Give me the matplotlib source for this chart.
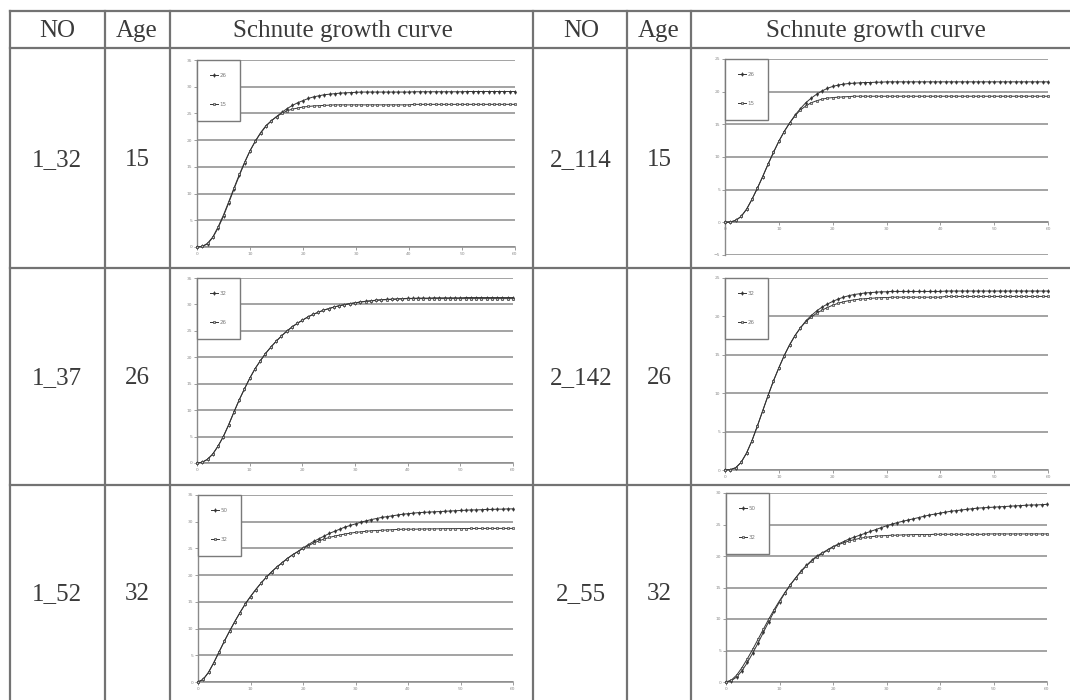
import matplotlib
matplotlib.use("Agg")
import matplotlib.pyplot as plt
from matplotlib.lines import Line2D

# ---------------- data ----------------
row_ids_left = ["1_32", "1_37", "1_52"]
row_ids_right = ["2_114", "2_142", "2_55"]
row_ages = ["15", "26", "32"]
header = ["NO", "Age", "Schnute growth curve"]

legend_labels = [("26", "15"), ("26", "15"),
                 ("32", "26"), ("32", "26"),
                 ("50", "32"), ("50", "32")]

x_ticks = [0, 10, 20, 30, 40, 50, 60]

# chart 1 : 1_32
A1 = [0, 0.1, 0.6, 1.8, 3.6, 5.8, 8.3, 10.9, 13.4, 15.8, 18.0, 19.8, 21.4, 22.7, 23.6, 24.4,
      25.2, 25.9, 26.5, 27.0, 27.4, 27.8, 28.1, 28.3, 28.5, 28.6, 28.7, 28.8, 28.85, 28.9, 28.95,
      29.0, 29.0, 29.0, 29.0, 29.0, 29.0, 29.0, 29.0, 29.0, 29.0,
      29.05, 29.05, 29.05, 29.05, 29.05, 29.05, 29.05, 29.05, 29.05, 29.05,
      29.1, 29.1, 29.1, 29.1, 29.1, 29.1, 29.1, 29.1, 29.1, 29.1]
B1 = [0, 0.1, 0.7, 1.9, 3.8, 6.0, 8.5, 11.1, 13.6, 15.9, 18.0, 19.8, 21.3, 22.6, 23.6, 24.4,
      25.0, 25.5, 25.8, 26.0, 26.2, 26.3, 26.4, 26.45, 26.5, 26.55,
      26.6, 26.6, 26.6, 26.6, 26.6, 26.6, 26.6, 26.6, 26.6, 26.6, 26.6, 26.6, 26.6, 26.6, 26.6,
      26.7, 26.7, 26.7, 26.7, 26.7, 26.7, 26.7, 26.7, 26.7, 26.7,
      26.7, 26.7, 26.7, 26.7, 26.7, 26.7, 26.7, 26.7, 26.7, 26.7]
# chart 2 : 2_114
A2 = [0, 0.05, 0.3, 0.9, 2.0, 3.5, 5.2, 7.0, 8.9, 10.7, 12.4, 13.9, 15.2, 16.4, 17.4, 18.3,
      19.0, 19.6, 20.1, 20.5, 20.8, 21.0, 21.15, 21.25, 21.3, 21.35, 21.4, 21.4, 21.45, 21.45,
      21.5, 21.5, 21.5, 21.5, 21.5, 21.5, 21.5, 21.5, 21.5, 21.5, 21.5, 21.5, 21.5, 21.5, 21.5,
      21.5, 21.5, 21.5, 21.5, 21.5, 21.5, 21.5, 21.5, 21.5, 21.5, 21.5, 21.5, 21.5, 21.5, 21.5, 21.5]
B2 = [0, 0.05, 0.3, 0.9, 2.0, 3.5, 5.2, 7.0, 8.9, 10.7, 12.4, 13.9, 15.2, 16.3, 17.2, 17.8,
      18.3, 18.6, 18.85, 19.0, 19.1, 19.15, 19.2, 19.25,
      19.3, 19.3, 19.3, 19.3, 19.3, 19.3, 19.3, 19.3, 19.3, 19.3, 19.3, 19.3, 19.3, 19.3, 19.3,
      19.3, 19.3, 19.3, 19.3, 19.3, 19.3, 19.3, 19.3, 19.3, 19.3, 19.3, 19.3, 19.3, 19.3, 19.3,
      19.3, 19.3, 19.3, 19.3, 19.3, 19.3, 19.3]
# chart 3 : 1_37
A3 = [0, 0.15, 0.7, 1.7, 3.2, 5.0, 7.2, 9.6, 11.9, 14.0, 16.0, 17.8, 19.3, 20.7, 21.9, 23.0,
      24.0, 24.9, 25.7, 26.4, 27.0, 27.6, 28.1, 28.5, 28.9, 29.2, 29.5, 29.75, 29.95, 30.15,
      30.3, 30.45, 30.6, 30.7, 30.8, 30.9, 30.95, 31.0, 31.05, 31.1, 31.15, 31.15, 31.2, 31.2,
      31.2, 31.25, 31.25, 31.25, 31.25, 31.25, 31.25,
      31.3, 31.3, 31.3, 31.3, 31.3, 31.3, 31.3, 31.3, 31.3, 31.3]
B3 = [0, 0.15, 0.7, 1.7, 3.2, 5.0, 7.2, 9.6, 11.9, 14.0, 16.0, 17.8, 19.3, 20.7, 21.9, 23.0,
      24.0, 24.9, 25.7, 26.4, 27.0, 27.6, 28.1, 28.5, 28.9, 29.2, 29.5, 29.75, 29.95, 30.15,
      30.3, 30.45, 30.55, 30.65, 30.75, 30.85, 30.9, 30.95, 31.0, 31.05, 31.1,
      31.1, 31.1, 31.1, 31.1, 31.1, 31.1, 31.1, 31.1, 31.1, 31.1,
      31.1, 31.1, 31.1, 31.1, 31.1, 31.1, 31.1, 31.1, 31.1, 31.1]
# chart 4 : 2_142
A4 = [0, 0.05, 0.3, 1.0, 2.2, 3.8, 5.7, 7.7, 9.7, 11.6, 13.3, 14.9, 16.3, 17.5, 18.5, 19.4,
      20.1, 20.7, 21.2, 21.6, 21.95, 22.25, 22.5, 22.7, 22.85, 22.95, 23.05, 23.1, 23.15, 23.2, 23.2,
      23.25, 23.25, 23.25, 23.25, 23.25, 23.25, 23.25, 23.25, 23.25, 23.25,
      23.3, 23.3, 23.3, 23.3, 23.3, 23.3, 23.3, 23.3, 23.3, 23.3,
      23.3, 23.3, 23.3, 23.3, 23.3, 23.3, 23.3, 23.3, 23.3, 23.3]
B4 = [0, 0.05, 0.3, 1.0, 2.2, 3.8, 5.7, 7.7, 9.7, 11.6, 13.3, 14.9, 16.3, 17.5, 18.5, 19.3,
      19.9, 20.4, 20.8, 21.15, 21.45, 21.7, 21.9, 22.05, 22.15, 22.25, 22.3, 22.35, 22.4, 22.45, 22.45,
      22.5, 22.5, 22.5, 22.5, 22.5, 22.5, 22.5, 22.5, 22.5, 22.5,
      22.6, 22.6, 22.6, 22.6, 22.6, 22.6, 22.6, 22.6, 22.6, 22.6,
      22.6, 22.6, 22.6, 22.6, 22.6, 22.6, 22.6, 22.6, 22.6, 22.6]
# chart 5 : 1_52
A5 = [0, 0.5, 1.8, 3.6, 5.6, 7.6, 9.5, 11.3, 13.0, 14.6, 16.0, 17.3, 18.5, 19.6, 20.6, 21.5,
      22.3, 23.1, 23.8, 24.4, 25.1, 25.7, 26.3, 26.8, 27.3, 27.8, 28.2, 28.6, 29.0, 29.3, 29.6,
      29.9, 30.15, 30.4, 30.6, 30.8, 30.95, 31.1, 31.25, 31.4, 31.5,
      31.6, 31.7, 31.75, 31.8, 31.85, 31.9, 31.95, 32.0, 32.05, 32.1,
      32.15, 32.2, 32.2, 32.25, 32.3, 32.3, 32.35, 32.35, 32.4, 32.4]
B5 = [0, 0.5, 1.8, 3.6, 5.6, 7.6, 9.5, 11.3, 13.0, 14.6, 16.0, 17.3, 18.5, 19.6, 20.6, 21.5,
      22.3, 23.1, 23.8, 24.4, 25.0, 25.5, 26.0, 26.4, 26.75, 27.05, 27.3, 27.5, 27.7, 27.85, 28.0,
      28.1, 28.2, 28.3, 28.35, 28.4, 28.45, 28.5, 28.55, 28.6, 28.6,
      28.6, 28.62, 28.64, 28.65, 28.66, 28.68, 28.7, 28.7, 28.7, 28.72,
      28.72, 28.73, 28.74, 28.74, 28.75, 28.75, 28.75, 28.75, 28.75, 28.75]
# chart 6 : 2_55
A6 = [0, 0.2, 0.8, 1.8, 3.1, 4.6, 6.2, 7.9, 9.6, 11.2, 12.7, 14.1, 15.4, 16.5, 17.6, 18.5,
      19.3, 20.0, 20.5, 21.0, 21.5, 21.9, 22.3, 22.7, 23.0, 23.3, 23.6, 23.9, 24.2,
      24.5, 24.8, 25.05, 25.3, 25.5, 25.7, 25.9, 26.1, 26.3, 26.5,
      26.65, 26.8, 26.95, 27.1, 27.2, 27.3, 27.4, 27.5, 27.6, 27.65,
      27.7, 27.75, 27.8, 27.85, 27.9, 27.95, 28.0, 28.05, 28.1, 28.1, 28.15, 28.2]
B6 = [0, 0.3, 1.1, 2.3, 3.7, 5.2, 6.8, 8.4, 10.0, 11.5, 12.9, 14.2, 15.4, 16.5, 17.5, 18.4,
      19.2, 19.9, 20.4, 20.9, 21.4, 21.8, 22.1, 22.4, 22.6, 22.8, 22.95, 23.05, 23.15,
      23.2, 23.25, 23.3, 23.3, 23.35, 23.35, 23.4, 23.4, 23.4, 23.4,
      23.45, 23.45, 23.45, 23.45, 23.45, 23.45, 23.45, 23.45, 23.45, 23.45,
      23.5, 23.5, 23.5, 23.5, 23.5, 23.5, 23.5, 23.5, 23.5, 23.5, 23.5, 23.5]

series = [(A1, B1), (A2, B2), (A3, B3), (A4, B4), (A5, B5), (A6, B6)]
y_ranges = [(0, 35), (-5, 25), (0, 35), (0, 25), (0, 35), (0, 30)]

# ---------------- layout (pixels) ----------------
W, H = 1070, 700
fig = plt.figure(figsize=(W / 100, H / 100), dpi=100)
fig.patch.set_facecolor("white")

def fx(x):
    return x / W

def fy(y):
    return 1 - y / H

line_col = "#737373"
h_lines = [11, 48, 268, 485]
v_lines = [10, 105, 170, 533, 627, 691]
for y in h_lines:
    fig.add_artist(Line2D([fx(10), fx(1070)], [fy(y), fy(y)], transform=fig.transFigure,
                          color=line_col, lw=1.6))
for x in v_lines:
    fig.add_artist(Line2D([fx(x), fx(x)], [fy(11), fy(700)], transform=fig.transFigure,
                          color=line_col, lw=1.6))

serif = "Liberation Serif"
txt_col = "#3a3a3a"
fs = 18
# headers (baseline placement)
hdr_centers_left = [57, 137, 343]
hdr_centers_right = [581, 659, 876]
for cx, t in zip(hdr_centers_left, header):
    fig.text(fx(cx), fy(37), t, ha="center", va="baseline", family=serif, fontsize=fs, color=txt_col)
for cx, t in zip(hdr_centers_right, header):
    fig.text(fx(cx), fy(37), t, ha="center", va="baseline", family=serif, fontsize=fs, color=txt_col)

row_baselines = [166, 384, 600]
for i, yb in enumerate(row_baselines):
    fig.text(fx(57), fy(yb), row_ids_left[i], ha="center", va="baseline", family=serif,
             fontsize=fs, color=txt_col)
    fig.text(fx(137), fy(yb), row_ages[i], ha="center", va="baseline", family=serif,
             fontsize=fs, color=txt_col)
    fig.text(fx(581), fy(yb), row_ids_right[i], ha="center", va="baseline", family=serif,
             fontsize=fs, color=txt_col)
    fig.text(fx(659), fy(yb), row_ages[i], ha="center", va="baseline", family=serif,
             fontsize=fs, color=txt_col)

# plot areas (x0, y0, x1, y1) in pixels
plot_boxes = [(197, 60, 515, 247), (725, 59, 1048, 255),
              (197, 278, 513, 463), (725, 278, 1048, 470),
              (198, 495, 513, 682), (726, 493, 1047, 682)]

grid_col = "#8a8a8a"
for k, (x0, y0, x1, y1) in enumerate(plot_boxes):
    ax = fig.add_axes([fx(x0), fy(y1), (x1 - x0) / W, (y1 - y0) / H])
    A, B = series[k]
    lo, hi = y_ranges[k]
    ax.set_xlim(0, 60)
    ax.set_ylim(lo, hi)
    ax.set_yticks(list(range(lo, hi + 1, 5)))
    ax.set_xticks(x_ticks)
    ax.yaxis.grid(True, color=grid_col, lw=1.1)
    ax.set_axisbelow(True)
    for s in ["top", "right"]:
        ax.spines[s].set_visible(False)
    ax.spines["left"].set_color(grid_col)
    ax.spines["bottom"].set_color(grid_col)
    ax.spines["left"].set_linewidth(1.0)
    ax.spines["bottom"].set_linewidth(1.1)
    if lo < 0:
        ax.spines["bottom"].set_position(("data", 0))
    ax.tick_params(axis="both", labelsize=3.2, colors="#8c8c8c", length=2, width=0.6, pad=1.5)
    la, lb = legend_labels[k]
    ax.plot(range(len(A)), A, color="#333333", lw=0.7, marker="d", ms=1.9,
            mfc="#333333", mec="#333333", mew=0.4, label=la, clip_on=False, zorder=3)
    ax.plot(range(len(B)), B, color="#333333", lw=0.7, marker="s", ms=1.5,
            mfc="#cccccc", mec="#333333", mew=0.45, label=lb, clip_on=False, zorder=3)
    leg = ax.legend(loc="upper left", bbox_to_anchor=(0.0, 1.0), fontsize=4, frameon=True,
                    fancybox=False, framealpha=1, edgecolor="#7a7a7a", borderpad=2.4,
                    labelspacing=4.3, handlelength=1.4, handletextpad=0.3, borderaxespad=0.0)
    leg.get_frame().set_linewidth(1.0)
    for t in leg.get_texts():
        t.set_color("#7a7a7a")

fig.savefig("out.png", dpi=100, facecolor="white")
